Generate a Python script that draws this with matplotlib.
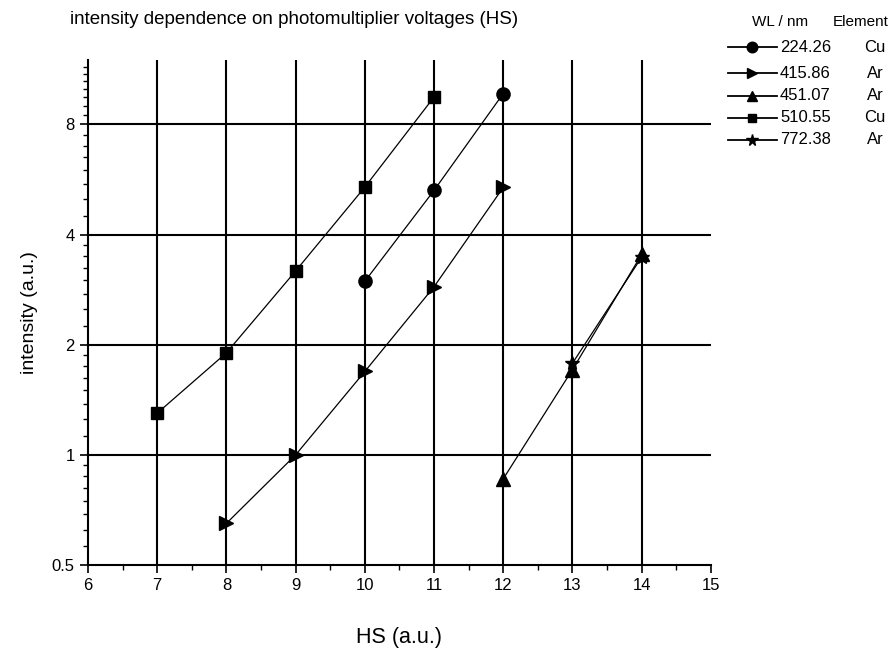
import numpy as np
import matplotlib.pyplot as plt
from matplotlib import ticker
from matplotlib.lines import Line2D

plt.rcParams['font.family'] = ['Liberation Sans', 'DejaVu Sans']

# intensity vs HS setting for each emission line
wavelengths = ['224.26', '415.86', '451.07', '510.55', '772.38']
elements = ['Cu', 'Ar', 'Ar', 'Cu', 'Ar']
markers = ['o', '>', '^', 's', '*']
msizes = [9.5, 9.5, 9.5, 8, 10.5]

hs_224 = [10, 11, 12]
int_224 = [2.98, 5.28, 9.71]
hs_415 = [8, 9, 10, 11, 12]
int_415 = [0.65, 1.0, 1.69, 2.88, 5.38]
hs_451 = [12, 13, 14]
int_451 = [0.86, 1.71, 3.53]
hs_510 = [7, 8, 9, 10, 11]
int_510 = [1.30, 1.90, 3.18, 5.39, 9.50]
hs_772 = [13, 14]
int_772 = [1.78, 3.47]

xs = [hs_224, hs_415, hs_451, hs_510, hs_772]
ys = [int_224, int_415, int_451, int_510, int_772]

fig = plt.figure(figsize=(8.95, 6.51), dpi=100)
ax = fig.add_axes([0.0983, 0.132, 0.696, 0.776])

for x, y, m, ms in zip(xs, ys, markers, msizes):
    ax.plot(x, y, color='black', lw=0.9, marker=m, markersize=ms)

ax.set_yscale('log', base=2)
ax.set_xlim(6, 15)
ax.set_ylim(0.5, 12)

ax.yaxis.set_major_locator(ticker.FixedLocator([0.5, 1, 2, 4, 8]))
ax.yaxis.set_major_formatter(ticker.FuncFormatter(lambda v, p: '%g' % v))
minor = []
for b in [0.5, 1, 2, 4]:
    minor += [b * (1 + k / 8) for k in range(1, 8)]
minor += [8 + 0.5 * k for k in range(1, 8)]
ax.yaxis.set_minor_locator(ticker.FixedLocator(minor))
ax.yaxis.set_minor_formatter(ticker.NullFormatter())

ax.xaxis.set_major_locator(ticker.MultipleLocator(1))
ax.xaxis.set_minor_locator(ticker.MultipleLocator(0.5))

# grid drawn by hand so it stops at the data area
for v in range(7, 15):
    ax.axvline(v, color='black', lw=1.5, zorder=0)
for v in [1, 2, 4, 8]:
    ax.axhline(v, color='black', lw=1.5, zorder=0)

for s in ['top', 'right']:
    ax.spines[s].set_visible(False)
for s in ['left', 'bottom']:
    ax.spines[s].set_linewidth(1.5)

ax.tick_params(which='major', length=6, width=1.2, labelsize=12)
ax.tick_params(which='minor', length=3.5, width=1.0)

ax.set_xlabel('HS (a.u.)', fontsize=15.5, labelpad=24)
ax.set_ylabel('intensity (a.u.)', fontsize=14, labelpad=10)
fig.text(70 / 895, 1 - 20 / 651, 'intensity dependence on photomultiplier voltages (HS)',
         fontsize=13.5, va='center', ha='left')

# legend table on the right
fig.text(752 / 895, 1 - 22 / 651, 'WL / nm', fontsize=11, va='center')
fig.text(833 / 895, 1 - 22 / 651, 'Element', fontsize=11, va='center')
rows = [47, 73, 96, 118, 140]
for wl, el, m, ms, r in zip(wavelengths, elements, markers, msizes, rows):
    yf = 1 - r / 651
    fig.add_artist(Line2D([728 / 895, 777 / 895], [yf, yf], color='black', lw=1.3,
                          transform=fig.transFigure))
    fig.add_artist(Line2D([752 / 895], [yf], color='black', marker=m, markersize=ms * 0.8,
                          transform=fig.transFigure))
    fig.text(780 / 895, yf, wl, fontsize=12, va='center')
    fig.text(875 / 895, yf, el, fontsize=12, va='center', ha='center')

fig.savefig('out.png', dpi=100)
